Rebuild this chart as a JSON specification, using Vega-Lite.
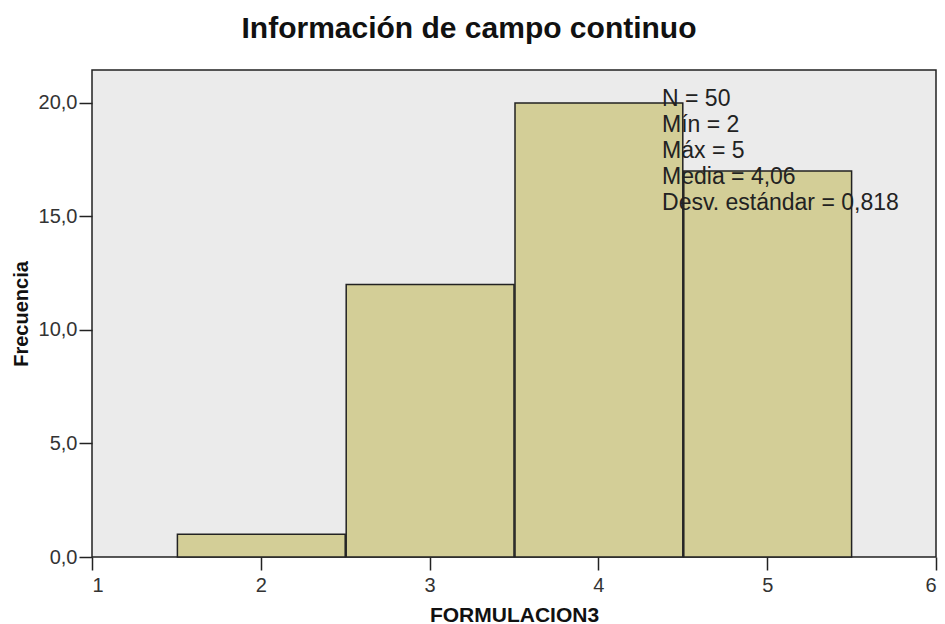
{
  "$schema": "https://vega.github.io/schema/vega-lite/v6.json",
  "width": 844,
  "height": 487,
  "autosize": "none",
  "padding": {"left": 92, "top": 70, "right": 9, "bottom": 67},
  "background": "white",
  "config": {
    "font": "Liberation Sans",
    "view": {"fill": "#ebebeb", "stroke": "#222222", "strokeWidth": 1.5},
    "axis": {"grid": false, "domain": false, "tickColor": "#222222", "tickWidth": 1.5, "tickSize": 13, "labelFontSize": 20, "labelColor": "#333333", "labelFont": "Liberation Sans", "titleFont": "Liberation Sans", "titleFontSize": 20, "titleFontWeight": "bold", "titleColor": "#111111"}
  },
  "title": {"text": "Información de campo continuo", "fontSize": 30, "fontWeight": "bold", "font": "Liberation Sans", "color": "#111111", "anchor": "middle", "dx": -45, "baseline": "alphabetic", "offset": 34, "dy": 32},
  "datasets": {
    "bins": [
      {"start": 1.5, "end": 2.5, "count": 1},
      {"start": 2.5, "end": 3.5, "count": 12},
      {"start": 3.5, "end": 4.5, "count": 20},
      {"start": 4.5, "end": 5.5, "count": 17}
    ],
    "stats": [
      {"label": "N = 50\nMín = 2\nMáx = 5\nMedia = 4,06\nDesv. estándar = 0,818"}
    ]
  },
  "layer": [
    {
      "data": {"name": "bins"},
      "mark": {"type": "bar", "fill": "#d3ce97", "stroke": "#222222", "strokeWidth": 1.5},
      "encoding": {
        "x": {"field": "start", "type": "quantitative", "bin": "binned", "scale": {"domain": [1, 6], "nice": false, "zero": false}, "axis": {"title": "FORMULACION3", "values": [1, 2, 3, 4, 5, 6], "format": "d", "labelPadding": 5, "titleFontSize": 21, "titlePadding": 9}},
        "x2": {"field": "end"},
        "y": {"field": "count", "type": "quantitative", "scale": {"domain": [0, 21.45], "nice": false}, "axis": {"title": "Frecuencia", "values": [0, 5, 10, 15, 20], "labelExpr": "replace(format(datum.value, '.1f'), '.', ',')", "labelPadding": 2, "titlePadding": 7}}
      }
    },
    {
      "data": {"name": "stats"},
      "mark": {"type": "text", "align": "left", "baseline": "top", "fontSize": 23, "lineHeight": 26, "lineBreak": "\n", "color": "#222222", "font": "Liberation Sans"},
      "encoding": {
        "x": {"datum": 4.377},
        "y": {"datum": 20.65},
        "text": {"field": "label"}
      }
    }
  ]
}
